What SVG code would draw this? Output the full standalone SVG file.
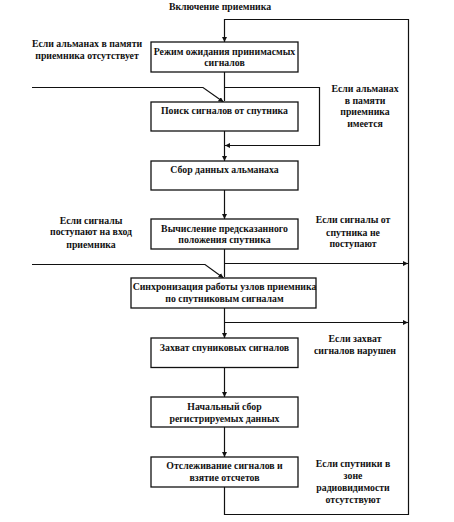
<svg xmlns="http://www.w3.org/2000/svg" width="454" height="522" viewBox="0 0 454 522">
<style>
text{font-family:"Liberation Serif","Times New Roman",serif;font-size:9.8px;font-weight:bold;fill:#111;text-anchor:middle}
rect{fill:#fff;stroke:#111;stroke-width:1.3}
.c path{fill:none;stroke:#111;stroke-width:1.2}
</style>
<defs>
<marker id="a" viewBox="0 0 10 10" refX="10" refY="5" markerWidth="5" markerHeight="5" orient="auto" markerUnits="userSpaceOnUse">
<path d="M0,0 L10,5 L0,10 Z" fill="#111"/>
</marker>
</defs>
<rect x="0" y="0" width="454" height="522" style="fill:#fff;stroke:none"/>
<g class="c" id="connectors">
<path d="M224.5,487 V514.5 H408.5 V19.5 H224.5 V42" marker-end="url(#a)"/>
<path d="M224.5,72 V101"/>
<path d="M32,87.5 H203 L223.5,102" marker-end="url(#a)"/>
<path d="M224.5,87.5 H319.5 V145.5 H225" marker-end="url(#a)"/>
<path d="M224.5,131 V161" marker-end="url(#a)"/>
<path d="M224.5,190 V219" marker-end="url(#a)"/>
<path d="M224.5,249 V277"/>
<path d="M224.5,263.5 H408" marker-end="url(#a)"/>
<path d="M32,264.5 H205 L223.5,278" marker-end="url(#a)"/>
<path d="M224.5,308 V338" marker-end="url(#a)"/>
<path d="M224.5,322.5 H408" marker-end="url(#a)"/>
<path d="M224.5,367.5 V397" marker-end="url(#a)"/>
<path d="M224.5,427 V457" marker-end="url(#a)"/>
</g>
<g id="title"><text x="220" y="9.5">Включение приемника</text></g>
<g id="n1"><rect x="151" y="42" width="147" height="30"/><text x="224.5" y="55">Режим ожидания принимасмых</text><text x="224.5" y="66">сигналов</text></g>
<g id="n2"><rect x="151" y="102" width="147" height="29"/><text x="224.5" y="113.5">Поиск сигналов от спутника</text></g>
<g id="n3"><rect x="151" y="161" width="147" height="29"/><text x="224.5" y="172.5">Сбор данных альманаха</text></g>
<g id="n4"><rect x="151" y="219" width="147" height="30"/><text x="224.5" y="232">Вычисление предсказанного</text><text x="224.5" y="242.5">положения спутника</text></g>
<g id="n5"><rect x="131" y="278" width="185" height="30"/><text x="224.5" y="290">Синхронизация работы узлов приемника</text><text x="224.5" y="302">по спутниковым сигналам</text></g>
<g id="n6"><rect x="151" y="338" width="147" height="29.5"/><text x="224.5" y="350.5">Захват спуниковых сигналов</text></g>
<g id="n7"><rect x="151" y="397" width="147" height="30"/><text x="224.5" y="410">Начальный сбор</text><text x="224.5" y="421.5">регистрируемых данных</text></g>
<g id="n8"><rect x="151" y="457" width="147" height="30"/><text x="224.5" y="468.5">Отслеживание сигналов и</text><text x="224.5" y="480.5">взятие отсчетов</text></g>
<g id="l1"><text x="87" y="47">Если альманах в памяти</text><text x="87" y="59">приемника отсутствует</text></g>
<g id="l2"><text x="365" y="92">Если альманах</text><text x="365" y="103.5">в памяти</text><text x="365" y="115">приемника</text><text x="365" y="127">имеется</text></g>
<g id="l3"><text x="91" y="223.5">Если сигналы</text><text x="91" y="235">поступают на вход</text><text x="91" y="247.5">приемника</text></g>
<g id="l4"><text x="353" y="223">Если сигналы от</text><text x="353" y="235.5">спутника не</text><text x="353" y="247">поступают</text></g>
<g id="l5"><text x="355" y="342">Если захват</text><text x="355" y="353.5">сигналов нарушен</text></g>
<g id="l6"><text x="353" y="467">Если спутники в</text><text x="353" y="478.5">зоне</text><text x="353" y="491">радиовидимости</text><text x="353" y="503">отсутствуют</text></g>
</svg>
